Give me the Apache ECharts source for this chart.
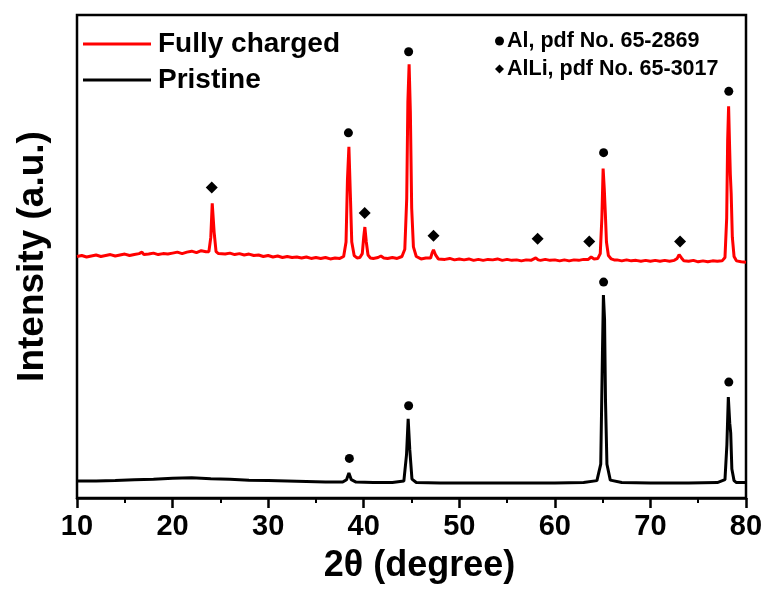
<!DOCTYPE html>
<html>
<head>
<meta charset="utf-8">
<script src="https://cdn.jsdelivr.net/npm/echarts@6/dist/echarts.min.js"></script>
<style>html,body{margin:0;padding:0;background:#fff;}#c{width:769px;height:589px;}</style>
</head>
<body>
<div id="c"></div>
<script>
var xTicks = [10, 20, 30, 40, 50, 60, 70, 80];
var charged = [[10,50.0],[10.5,50.2],[11,49.9],[11.5,50.1],[12,50.3],[12.5,50.0],[13,50.2],[13.5,50.4],[14,50.1],[14.5,50.3],[15,50.5],[15.5,50.2],[16,50.4],[16.5,50.6],[16.8,50.9],[17,50.4],[17.5,50.5],[18,50.7],[18.5,50.4],[19,50.6],[19.5,50.5],[20,50.7],[20.5,50.9],[21,50.6],[21.5,50.9],[22,51.1],[22.5,50.8],[23,51.2],[23.5,51.0],[23.8,51.0],[24.0,54],[24.15,61],[24.35,55],[24.55,51.0],[24.8,50.6],[25,50.8],[25.5,50.5],[26,50.7],[26.5,50.4],[27,50.6],[27.5,50.3],[28,50.5],[28.5,50.2],[29,50.3],[29.5,50.0],[30,50.2],[30.5,49.9],[31,50.1],[31.5,49.8],[32,50.0],[32.5,49.8],[33,49.9],[33.5,49.7],[34,49.9],[34.5,49.6],[35,49.8],[35.5,49.6],[36,49.8],[36.5,49.5],[37,49.7],[37.5,49.6],[37.9,50.0],[38.15,53],[38.3,66],[38.45,72.7],[38.6,63],[38.75,53],[39.0,50.2],[39.3,49.7],[39.6,49.8],[39.85,50.6],[40.0,54],[40.12,56.1],[40.27,53],[40.45,50.3],[40.7,49.7],[41,49.6],[41.5,49.8],[41.8,50.1],[42.1,49.7],[42.5,49.6],[43,49.8],[43.5,49.6],[44.0,50.0],[44.3,51.5],[44.5,62],[44.62,82],[44.75,89.8],[44.88,80],[45.02,60],[45.2,52],[45.5,50.0],[46,49.5],[46.5,49.7],[47.0,49.7],[47.15,50.7],[47.3,51.4],[47.5,50.4],[47.8,49.5],[48,49.6],[48.5,49.4],[49,49.6],[49.5,49.3],[50,49.5],[50.5,49.3],[51,49.5],[51.5,49.2],[52,49.4],[52.5,49.2],[53,49.4],[53.5,49.3],[54,49.5],[54.5,49.2],[55,49.4],[55.5,49.2],[56,49.3],[56.5,49.1],[57,49.3],[57.5,49.2],[58.0,49.7],[58.25,49.3],[58.5,49.2],[59,49.4],[59.5,49.2],[60,49.3],[60.5,49.1],[61,49.3],[61.5,49.1],[62,49.3],[62.5,49.2],[63,49.4],[63.5,49.4],[63.8,49.9],[64.1,49.5],[64.5,49.6],[64.75,50.6],[64.92,58],[65.05,68.2],[65.17,64],[65.28,59],[65.4,53],[65.6,50.2],[65.9,49.5],[66.2,49.3],[66.5,49.3],[67,49.1],[67.5,49.3],[68,49.1],[68.5,49.2],[69,49.0],[69.5,49.2],[70,49.0],[70.5,49.2],[71,49.0],[71.5,49.2],[72,49.0],[72.5,49.2],[72.8,49.6],[73.0,50.4],[73.25,49.7],[73.5,49.1],[74,49.0],[74.5,49.2],[75,48.9],[75.5,49.1],[76,48.9],[76.5,49.1],[77,49.0],[77.5,49.1],[77.8,49.8],[77.98,58],[78.08,74],[78.18,81.1],[78.28,73],[78.36,67],[78.45,63],[78.57,54],[78.75,50.0],[79,49.1],[79.5,48.9],[80,48.8]];
var pristine = [[10,3.5],[12,3.5],[14,3.6],[16,3.8],[18,3.9],[20,4.1],[22,4.2],[24,4.0],[26,3.9],[28,3.7],[30,3.6],[32,3.5],[34,3.4],[36,3.3],[37.8,3.3],[38.2,3.8],[38.45,5.2],[38.7,3.8],[39.2,3.3],[41,3.2],[43,3.2],[44.2,3.5],[44.48,9],[44.65,16.4],[44.82,10],[45.05,3.9],[45.5,3.2],[48,3.1],[52,3.1],[56,3.1],[60,3.1],[63,3.2],[64.4,3.6],[64.8,7],[64.98,30],[65.08,42],[65.2,37],[65.3,20],[65.45,7],[65.8,3.7],[67,3.2],[70,3.1],[74,3.1],[77,3.2],[77.8,3.8],[78.0,11],[78.15,20.9],[78.3,15.5],[78.4,13.5],[78.52,6],[78.75,3.6],[79,3.2],[80,3.2]];
var alMarks = [[38.4,75.6],[44.7,92.4],[65.1,71.5],[78.2,84.2],[38.5,8.2],[44.7,19.1],[65.1,44.7],[78.2,24.0]];
var alliMarks = [[24.1,64.3],[40.1,59.0],[47.3,54.3],[58.2,53.7],[63.6,53.1],[73.1,53.1]];

var chart = echarts.init(document.getElementById('c'));
var F = 'Arial, "Liberation Sans", sans-serif';
chart.setOption({
  animation: false,
  backgroundColor: '#fff',
  grid: {left: 77, right: 23, top: 15, bottom: 86, show: true, borderColor: '#000', borderWidth: 2.5, backgroundColor: 'transparent'},
  legend: [{
    data: ['Fully charged', 'Pristine'],
    orient: 'vertical', left: 78, top: 25,
    icon: 'rect', itemWidth: 68, itemHeight: 3, itemGap: 8,
    textStyle: {fontFamily: F, fontWeight: 'bold', fontSize: 28, color: '#000', padding: [0,0,0,2]}
  }, {
    data: ['Al, pdf No. 65-2869', 'AlLi, pdf No. 65-3017'],
    orient: 'vertical', left: 490, top: 25,
    itemWidth: 9, itemHeight: 9, itemGap: 6,
    textStyle: {fontFamily: F, fontWeight: 'bold', fontSize: 21.5, color: '#000', padding: [0,0,0,-2]}
  }],
  xAxis: {
    type: 'value', min: 10, max: 80, interval: 10,
    name: '2θ (degree)', nameLocation: 'middle', nameGap: 50,
    nameTextStyle: {fontFamily: F, fontWeight: 'bold', fontSize: 36, color: '#000', padding: [0,0,0,16]},
    axisLine: {show: true, lineStyle: {color: '#000', width: 2.5}},
    axisTick: {show: true, inside: false, length: 10, lineStyle: {color: '#000', width: 2.5}},
    minorTick: {show: true, splitNumber: 2, length: 5, lineStyle: {color: '#000', width: 2}},
    axisLabel: {fontFamily: F, fontWeight: 'bold', fontSize: 29, color: '#000', margin: 14,
      formatter: function (v) { return xTicks.indexOf(v) >= 0 ? String(v) : ''; }},
    splitLine: {show: false}
  },
  yAxis: {
    type: 'value', min: 0, max: 100,
    name: 'Intensity (a.u.)', nameLocation: 'middle', nameGap: 26,
    nameTextStyle: {fontFamily: F, fontWeight: 'bold', fontSize: 37, color: '#000'},
    axisLine: {show: false}, axisTick: {show: false}, axisLabel: {show: false}, splitLine: {show: false}
  },
  series: [
    {name: 'Fully charged', type: 'line', data: charged, showSymbol: false, symbol: 'none',
      lineStyle: {color: '#ff0000', width: 3}, itemStyle: {color: '#ff0000'}},
    {name: 'Pristine', type: 'line', data: pristine, showSymbol: false, symbol: 'none',
      lineStyle: {color: '#000', width: 3}, itemStyle: {color: '#000'}},
    {name: 'Al, pdf No. 65-2869', type: 'scatter', data: alMarks, symbol: 'circle', symbolSize: 9,
      itemStyle: {color: '#000', opacity: 1}},
    {name: 'AlLi, pdf No. 65-3017', type: 'scatter', data: alliMarks, symbol: 'diamond', symbolSize: 12,
      itemStyle: {color: '#000', opacity: 1}}
  ]
});
</script>
</body>
</html>
